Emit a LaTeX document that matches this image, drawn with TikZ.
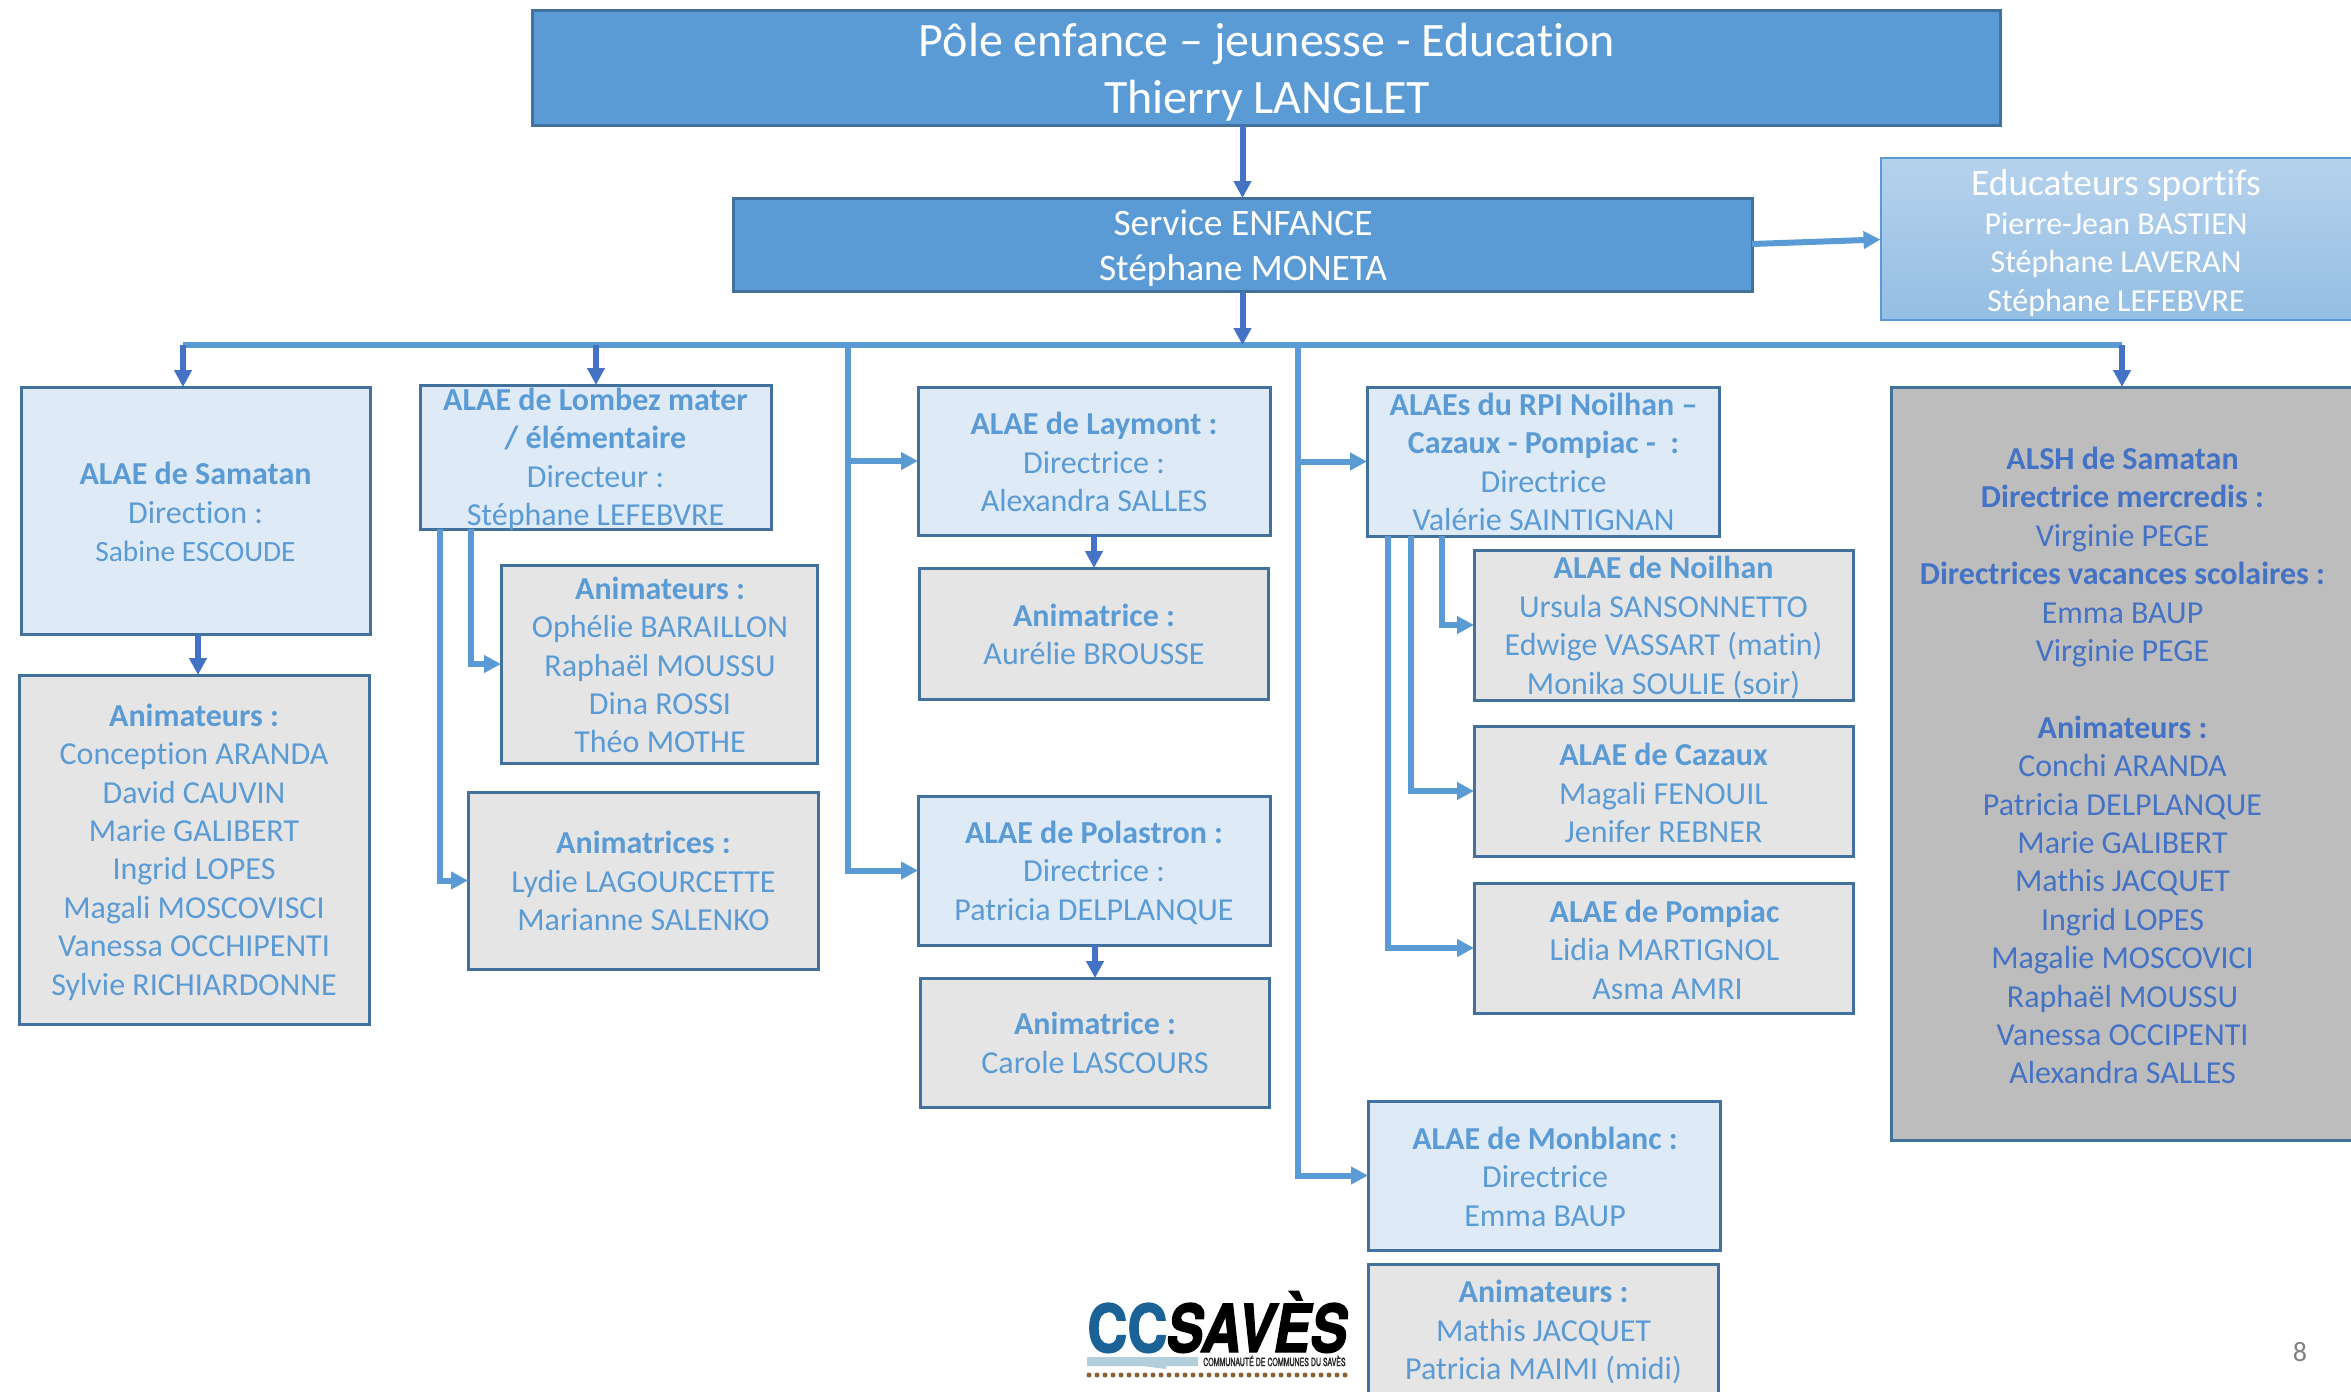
\documentclass[tikz,border=0pt]{standalone}
\usepackage{fontspec}
\setmainfont[Ligatures=NoCommon]{Carlito}
\newfontfamily\logofont[FakeBold=2.2]{TeX Gyre Heros}
\usetikzlibrary{arrows.meta}
\definecolor{cblue}{HTML}{5B9BD5}
\definecolor{cdark}{HTML}{4472C4}
\definecolor{cedge}{HTML}{41719C}
\definecolor{clight}{HTML}{DEEAF6}
\definecolor{cgrey}{HTML}{E5E5E5}
\definecolor{cmid}{HTML}{BDBDBD}
\definecolor{clogo}{HTML}{1B6297}
\definecolor{cbarlogo}{HTML}{B3CFDC}
\definecolor{cdot}{HTML}{8B5E34}
\tikzset{
 boxbase/.style={draw=cedge,line width=1.5pt,inner sep=0,outer sep=0,rectangle},
 mainbox/.style={boxbase,fill=cblue},
 lightbox/.style={boxbase,fill=clight},
 greybox/.style={boxbase,fill=cgrey},
 midbox/.style={boxbase,fill=cmid},
 sportbox/.style={boxbase,draw=cblue,line width=1pt,top color=cblue!45!white,bottom color=cblue!65!white},
 txt/.style={text=cblue,align=center,inner sep=0,font=\fontsize{16}{19.2}\selectfont},
 titletxt/.style={text=white,align=center,inner sep=0,font=\fontsize{24}{28.5}\selectfont},
 svctxt/.style={text=white,align=center,inner sep=0,font=\fontsize{18.7}{22.5}\selectfont},
 whitetxt/.style={text=white,align=center,inner sep=0,font=\fontsize{16}{19.2}\selectfont},
 alshtxt/.style={text=cdark,align=center,inner sep=0,font=\fontsize{16}{19.2}\selectfont},
 lightline/.style={draw=cblue,line width=3pt},
 lightarrow/.style={lightline,-{Triangle[length=8.5pt,width=8.5pt]}},
 darkarrow/.style={draw=cdark,line width=3pt,-{Triangle[length=8.5pt,width=8.5pt]}},
}
\newcommand{\bx}[6]{\node[#1,minimum width={(#5-#3)*0.5pt},minimum height={(#6-#4)*0.5pt}] (#2) at ({(#3+#5)/2},{(#4+#6)/2}) {};}
\begin{document}
\begin{tikzpicture}[x=0.5pt,y=-0.5pt]
\useasboundingbox (0,0) rectangle (2351,1392);
\clip (0,0) rectangle (2351,1392);
\bx{mainbox}{top}{532}{10.5}{2000.5}{125.5}
\bx{mainbox}{svc}{733}{198}{1752}{291.5}
\bx{sportbox}{sport}{1880.5}{158}{2400}{320}
\bx{lightbox}{sam}{21}{387}{370}{634}
\bx{greybox}{samA}{19}{675}{369}{1024}
\bx{lightbox}{lom}{420}{385}{771}{529}
\bx{greybox}{lomA}{501}{565}{817}{763}
\bx{greybox}{lomB}{468}{792}{818}{969}
\bx{lightbox}{lay}{918}{387}{1270}{535}
\bx{greybox}{layA}{919}{568}{1268}{699}
\bx{lightbox}{pol}{918}{796}{1270}{945}
\bx{greybox}{polA}{920}{978}{1269}{1107}
\bx{lightbox}{rpi}{1367}{387}{1719}{536}
\bx{greybox}{noi}{1474}{550}{1853}{700}
\bx{greybox}{caz}{1474}{726}{1853}{856}
\bx{greybox}{pom}{1474}{883}{1853}{1013}
\bx{lightbox}{mon}{1368}{1101}{1720}{1250}
\bx{greybox}{monA}{1368}{1264}{1718}{1450}
\bx{midbox}{alsh}{1891}{387}{2400}{1140}

\node[titletxt] (topT) at (1267,72) {Pôle enfance – jeunesse - Education\\Thierry LANGLET};
\node[svctxt] (svcT) at (1243,248) {Service ENFANCE\\Stéphane MONETA};
\node[whitetxt] (sportT) at (2116,243) {{\fontsize{18.7}{19.2}\selectfont Educateurs sportifs}\\Pierre-Jean BASTIEN\\Stéphane LAVERAN\\Stéphane LEFEBVRE};
\node[txt] (samT) at (195.5,512) {\textbf{ALAE de Samatan}\\Direction :\\{\fontsize{14.7}{19.2}\selectfont Sabine ESCOUDE}};
\node[txt] (samAT) at (194,852) {\textbf{Animateurs :}\\Conception ARANDA\\David CAUVIN\\Marie GALIBERT\\Ingrid LOPES\\Magali MOSCOVISCI\\Vanessa OCCHIPENTI\\Sylvie RICHIARDONNE};
\node[txt] (lomT) at (595.5,459.5) {\textbf{ALAE de Lombez mater}\\\textbf{/ élémentaire}\\Directeur :\\Stéphane LEFEBVRE};
\node[txt] (lomAT) at (660,665) {\textbf{Animateurs :}\\Ophélie BARAILLON\\Raphaël MOUSSU\\Dina ROSSI\\Théo MOTHE};
\node[txt] (lomBT) at (643.5,881) {\textbf{Animatrices :}\\Lydie LAGOURCETTE\\Marianne SALENKO};
\node[txt] (layT) at (1094,462) {\textbf{ALAE de Laymont :}\\Directrice :\\Alexandra SALLES};
\node[txt] (layAT) at (1094,634.5) {\textbf{Animatrice :}\\Aurélie BROUSSE};
\node[txt] (polT) at (1094,872.5) {\textbf{ALAE de Polastron :}\\Directrice :\\Patricia DELPLANQUE};
\node[txt] (polAT) at (1095,1043) {\textbf{Animatrice :}\\Carole LASCOURS};
\node[txt] (rpiT) at (1543.5,462) {\textbf{ALAEs du RPI Noilhan –}\\\textbf{Cazaux - Pompiac -\ \ :}\\Directrice\\Valérie SAINTIGNAN};
\node[txt] (noiT) at (1663.5,627.5) {\textbf{ALAE de Noilhan}\\Ursula SANSONNETTO\\Edwige VASSART (matin)\\Monika SOULIE (soir)};
\node[txt] (cazT) at (1663.5,793) {\textbf{ALAE de Cazaux}\\Magali FENOUIL\\Jenifer REBNER};
\node[txt] (pomT) at (1664.5,949.5) {\textbf{ALAE de Pompiac}\\Lidia MARTIGNOL\\\hspace{3pt}Asma AMRI};
\node[txt] (monT) at (1545,1176.5) {\textbf{ALAE de Monblanc :}\\Directrice\\Emma BAUP};
\node[txt] (monAT) at (1543.5,1332) {\textbf{Animateurs :}\\Mathis JACQUET\\Patricia MAIMI (midi)};
\node[alshtxt] (alshT) at (2122.5,765.5) {\textbf{ALSH de Samatan}\\\textbf{Directrice mercredis :}\\Virginie PEGE\\\textbf{Directrices vacances scolaires :}\\Emma BAUP\\Virginie PEGE\\[19.2pt]\textbf{Animateurs :}\\Conchi ARANDA\\Patricia DELPLANQUE\\Marie GALIBERT\\Mathis JACQUET\\Ingrid LOPES\\Magalie MOSCOVICI\\Raphaël MOUSSU\\Vanessa OCCIPENTI\\Alexandra SALLES};
\node[text=black!50,inner sep=0,font=\fontsize{14}{16}\selectfont] (pagenum) at (2300,1352) {8};

% helper coordinates
\coordinate (barL) at (183,345);
\coordinate (barR) at (2122,345);
\coordinate (vA) at (848,345);
\coordinate (vB) at (1298,345);
\coordinate (l1) at (440,529);
\coordinate (l2) at (471,529);
\coordinate (r1) at (1388,536);
\coordinate (r2) at (1411,536);
\coordinate (r3) at (1442,536);
\coordinate (lomX) at (596,345);
\coordinate (samX) at (198,634);
\coordinate (layX) at (1094,535);
\coordinate (polX) at (1095,945);

% connectors
\draw[lightline] (barL) -- (barR);
\draw[darkarrow] (svc.north |- top.south) -- (svc.north);
\draw[darkarrow] (svc.south) -- (svc.south |- barL);
\draw[lightarrow] (svc.east |- 0,244) -- (sport.west |- 0,239.5);
\draw[darkarrow] (barL) -- (barL |- sam.north);
\draw[darkarrow] (lomX) -- (lomX |- lom.north);
\draw[darkarrow] (barR) -- (barR |- alsh.north);
\draw[darkarrow] (samX) -- (samX |- samA.north);
\draw[darkarrow] (layX) -- (layX |- layA.north);
\draw[darkarrow] (polX) -- (polX |- polA.north);
\draw[lightarrow] (vA) |- (lay.west);
\draw[lightarrow] (vA) |- (pol.west);
\draw[lightarrow] (vB) |- (rpi.west);
\draw[lightarrow] (vB) |- (mon.west);
\draw[lightarrow] (l1) |- (lomB.west);
\draw[lightarrow] (l2) |- (lomA.west);
\draw[lightarrow] (r1) |- (pom.west);
\draw[lightarrow] (r2) |- (caz.west);
\draw[lightarrow] (r3) |- (noi.west);

% logo
\node[anchor=base west,inner sep=0,text=clogo,xscale=.84,font=\logofont\fontsize{33}{33}\selectfont\bfseries] (logoCC) at (1087,1352) {CC};
\node[anchor=base west,inner sep=0,text=black,xscale=.83,font=\logofont\fontsize{33}{33}\selectfont\bfseries\itshape] (logoSV) at (1166,1352) {SAVÈS};
\fill[cbarlogo] (1087,1357) -- (1198,1357) -- (1198,1366) -- (1166,1366) -- (1166,1369) -- (1142,1366) -- (1087,1366) -- cycle;
\node[anchor=base west,inner sep=0,text=black!85,xscale=.625,font=\logofont\fontsize{5.6}{5.6}\selectfont] (logoTx) at (1203,1366) {COMMUNAUTÉ DE COMMUNES DU SAVÈS};
\foreach \i in {0,...,32} \fill[cdot] ({1089+\i*8},1375) circle (2.5);
\end{tikzpicture}
\end{document}
